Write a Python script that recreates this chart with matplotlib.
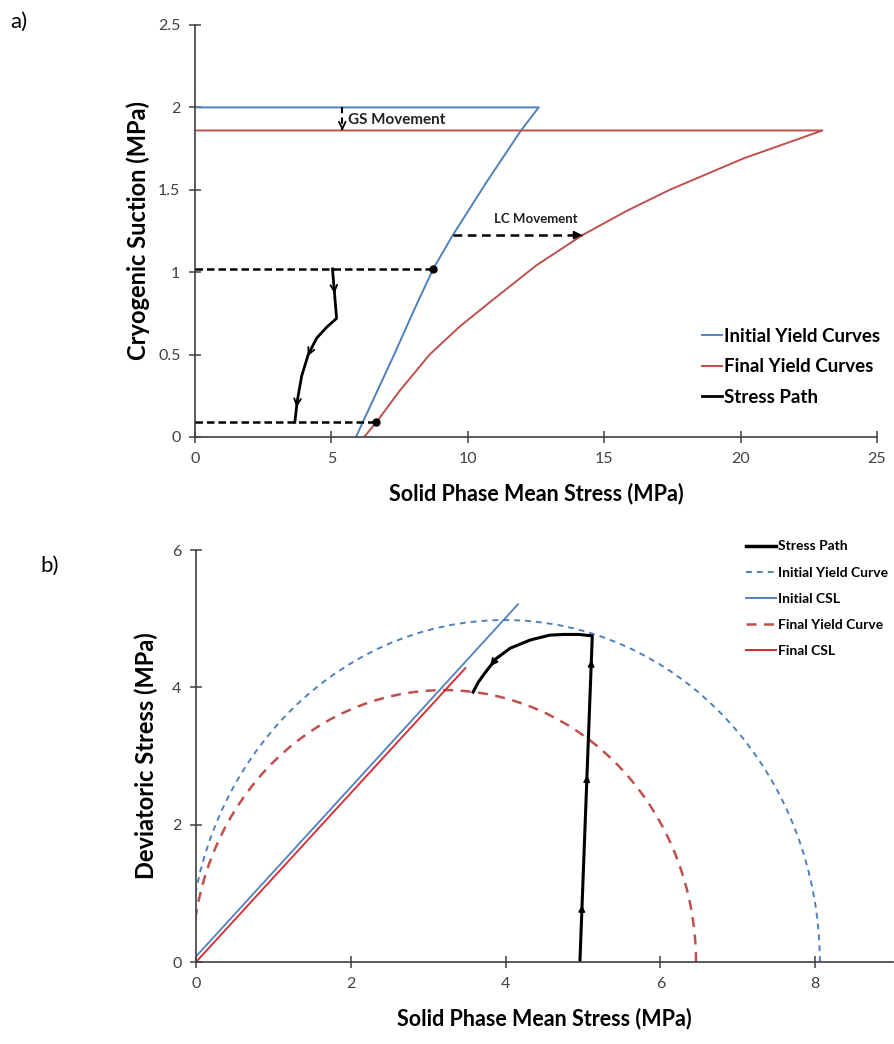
import numpy as np
import matplotlib.pyplot as plt
from matplotlib.patches import Arc
from matplotlib.lines import Line2D
from matplotlib.ticker import FuncFormatter

plt.rcParams['font.family'] = ['Lato', 'DejaVu Sans']

BLUE = '#4F81BD'
RED = '#C0504D'
RED_CSL = '#D9262B'
AXIS = '#404040'

# ---- a) suction vs solid phase mean stress ----
# initial yield curve (GS line + LC curve), MPa
init_p = [0, 12.6, 11.95, 10.7, 9.45, 8.73, 8.0, 7.3, 6.6, 5.9]
init_s = [2.0, 2.0, 1.86, 1.55, 1.225, 1.02, 0.76, 0.5, 0.25, 0.0]
# final yield curve
final_p = [0, 23.0, 20.1, 17.4, 15.8, 14.2, 12.5, 10.9, 9.7, 8.6, 7.5, 6.65, 6.2]
final_s = [1.86, 1.86, 1.69, 1.50, 1.37, 1.225, 1.04, 0.83, 0.67, 0.50, 0.28, 0.09, 0.0]
# stress path during freezing
path_a_p = [5.04, 5.19, 4.82, 4.46, 4.15, 3.91, 3.75, 3.66]
path_a_s = [1.02, 0.72, 0.665, 0.60, 0.50, 0.37, 0.22, 0.09]
path_a_arrows = [0.87, 0.49, 0.18]       # suction where arrows sit
# dashed guides: suction level and where they meet the yield curve
guide_s = [1.02, 0.09]
guide_p = [8.73, 6.65]
# GS / LC movement arrows
gs_p = 5.4
gs_from, gs_to = 2.0, 1.86
lc_s = 1.225
lc_from, lc_to = 9.46, 14.2

# ---- b) deviatoric vs solid phase mean stress ----
# yield ellipses: left end (tension), right end, peak q
init_yield = (-0.09, 8.06, 4.98)
final_yield = (-0.05, 6.46, 3.96)
# critical state lines
init_csl_p = [0, 4.16]
init_csl_q = [0.08, 5.21]
final_csl_p = [0, 3.48]
final_csl_q = [0, 4.28]
# stress path: loading at constant p then yielding back to final curve
path_b_p = [4.96, 5.12, 4.95, 4.75, 4.57, 4.32, 4.06, 3.88, 3.76, 3.65, 3.58]
path_b_q = [0, 4.75, 4.77, 4.77, 4.76, 4.69, 4.57, 4.42, 4.25, 4.08, 3.93]
path_b_arrows_q = [0.83, 2.72, 4.40]     # arrows on the vertical leg
path_b_arrow_p = 3.80                    # arrow on the curved leg


def head(ax, xy, tail, style='->', scale=10, lw=1.3):
    ax.annotate('', xy=xy, xytext=tail,
                arrowprops=dict(arrowstyle=style, color='k', lw=lw,
                                mutation_scale=scale, shrinkA=0, shrinkB=0))


def style_axes(ax):
    for side in ['top', 'right']:
        ax.spines[side].set_visible(False)
    for side in ['left', 'bottom']:
        ax.spines[side].set_color(AXIS)
        ax.spines[side].set_linewidth(1.2)
    ax.tick_params(direction='inout', length=9, width=1.1, color=AXIS,
                   labelsize=11.5, labelcolor=AXIS, pad=6)
    ax.xaxis.set_major_formatter(FuncFormatter(lambda v, _: f'{v:g}'))
    ax.yaxis.set_major_formatter(FuncFormatter(lambda v, _: f'{v:g}'))


fig = plt.figure(figsize=(8.95, 10.44), dpi=100)
W, H = 895, 1044

ax1 = fig.add_axes([195 / W, 1 - 437 / H, 682 / W, 412 / H])
ax1.plot(init_p, init_s, color=BLUE, lw=1.4, label='Initial Yield Curves')
ax1.plot(final_p, final_s, color=RED, lw=1.4, label='Final Yield Curves')
ax1.plot(path_a_p, path_a_s, color='k', lw=2.0, label='Stress Path')

for s, p in zip(guide_s, guide_p):
    ax1.plot([0, p], [s, s], color='k', lw=1.8, ls=(0, (3, 1.6)),
             marker='o', ms=5, markevery=[1], zorder=4)

# arrows along the stress path (suction decreasing)
sp = np.array(path_a_p)[::-1]
ss = np.array(path_a_s)[::-1]
for s in path_a_arrows:
    head(ax1, (np.interp(s, ss, sp), s),
         (np.interp(s + 0.04, ss, sp), s + 0.04), scale=12)

# GS movement
ax1.plot([gs_p, gs_p], [gs_from, gs_to], color='k', lw=1.5, ls=(0, (3, 2)))
head(ax1, (gs_p, gs_to), (gs_p, gs_to + 0.02), scale=12)
ax1.text(gs_p + 0.2, 1.925, 'GS Movement', fontsize=11, fontweight='bold',
         va='center', color='#222222')

# LC movement
ax1.plot([lc_from, lc_to], [lc_s, lc_s], color='k', lw=1.8, ls=(0, (3.5, 2.2)))
head(ax1, (lc_to, lc_s), (lc_to - 0.4, lc_s), style='-|>', scale=12)
ax1.text(lc_from + 1.5, 1.32, 'LC Movement', fontsize=9.5, fontweight='bold',
         va='center', color='#222222')

ax1.set_xlim(0, 25)
ax1.set_ylim(0, 2.5)
ax1.set_xticks(np.arange(0, 26, 5))
ax1.set_yticks(np.arange(0, 2.51, 0.5))
style_axes(ax1)
ax1.set_xlabel('Solid Phase Mean Stress (MPa)', fontsize=15.5, fontweight='bold',
               labelpad=12)
ax1.set_ylabel('Cryogenic Suction (MPa)', fontsize=17, fontweight='bold',
               labelpad=6)
ax1.legend(loc='upper left', bbox_to_anchor=(0.729, 0.288), frameon=False,
           handlelength=1.1, handletextpad=0.1, labelspacing=0.72,
           borderpad=0, prop={'weight': 'bold', 'size': 13.5})

# ---- panel b ----
ax2 = fig.add_axes([196 / W, 1 - 962 / H, 696.6 / W, 412 / H])
for (pl, pr, qmax), col, dash, lw in [
        (init_yield, BLUE, (0, (3, 2.6)), 1.4),
        (final_yield, RED, (0, (4, 3)), 1.8)]:
    ax2.add_patch(Arc(((pl + pr) / 2, 0), pr - pl, 2 * qmax, theta1=0,
                      theta2=180, color=col, lw=lw, ls=dash))

ax2.plot(init_csl_p, init_csl_q, color=BLUE, lw=1.3)
ax2.plot(final_csl_p, final_csl_q, color=RED_CSL, lw=1.3)
ax2.plot(path_b_p, path_b_q, color='k', lw=2.2)

# arrows up the vertical leg
vp = np.array(path_b_p[:2])
vq = np.array(path_b_q[:2])
for q in path_b_arrows_q:
    head(ax2, (np.interp(q, vq, vp), q),
         (np.interp(q - 0.05, vq, vp), q - 0.05), style='-|>', scale=10, lw=1)
# arrow on the curved leg (p decreasing)
cp = np.array(path_b_p[1:])[::-1]
cq = np.array(path_b_q[1:])[::-1]
head(ax2, (path_b_arrow_p, np.interp(path_b_arrow_p, cp, cq)),
     (path_b_arrow_p + 0.05, np.interp(path_b_arrow_p + 0.05, cp, cq)),
     style='-|>', scale=12, lw=1)

ax2.set_xlim(0, 9)
ax2.set_ylim(0, 6)
ax2.set_xticks([0, 2, 4, 6, 8])
ax2.set_yticks([0, 2, 4, 6])
style_axes(ax2)
ax2.set_xlabel('Solid Phase Mean Stress (MPa)', fontsize=15.5, fontweight='bold',
               labelpad=12)
ax2.set_ylabel('Deviatoric Stress (MPa)', fontsize=17, fontweight='bold',
               labelpad=10)

legend_b = [
    Line2D([], [], color='k', lw=2.5, label='Stress Path'),
    Line2D([], [], color=BLUE, lw=1.4, ls=(0, (3, 2.6)), label='Initial Yield Curve'),
    Line2D([], [], color=BLUE, lw=1.4, label='Initial CSL'),
    Line2D([], [], color=RED, lw=1.8, ls=(0, (4, 3)), label='Final Yield Curve'),
    Line2D([], [], color=RED_CSL, lw=1.4, label='Final CSL'),
]
ax2.legend(handles=legend_b, loc='upper left', bbox_to_anchor=(0.78, 1.04),
           frameon=False, handlelength=2.15, handletextpad=0.1,
           labelspacing=1.02, borderpad=0,
           prop={'weight': 'bold', 'size': 10})

fig.text(10 / W, 1 - 22 / H, 'a)', fontsize=16, va='center')
fig.text(40 / W, 1 - 566 / H, 'b)', fontsize=16, va='center')

fig.savefig('out.png', dpi=100)
